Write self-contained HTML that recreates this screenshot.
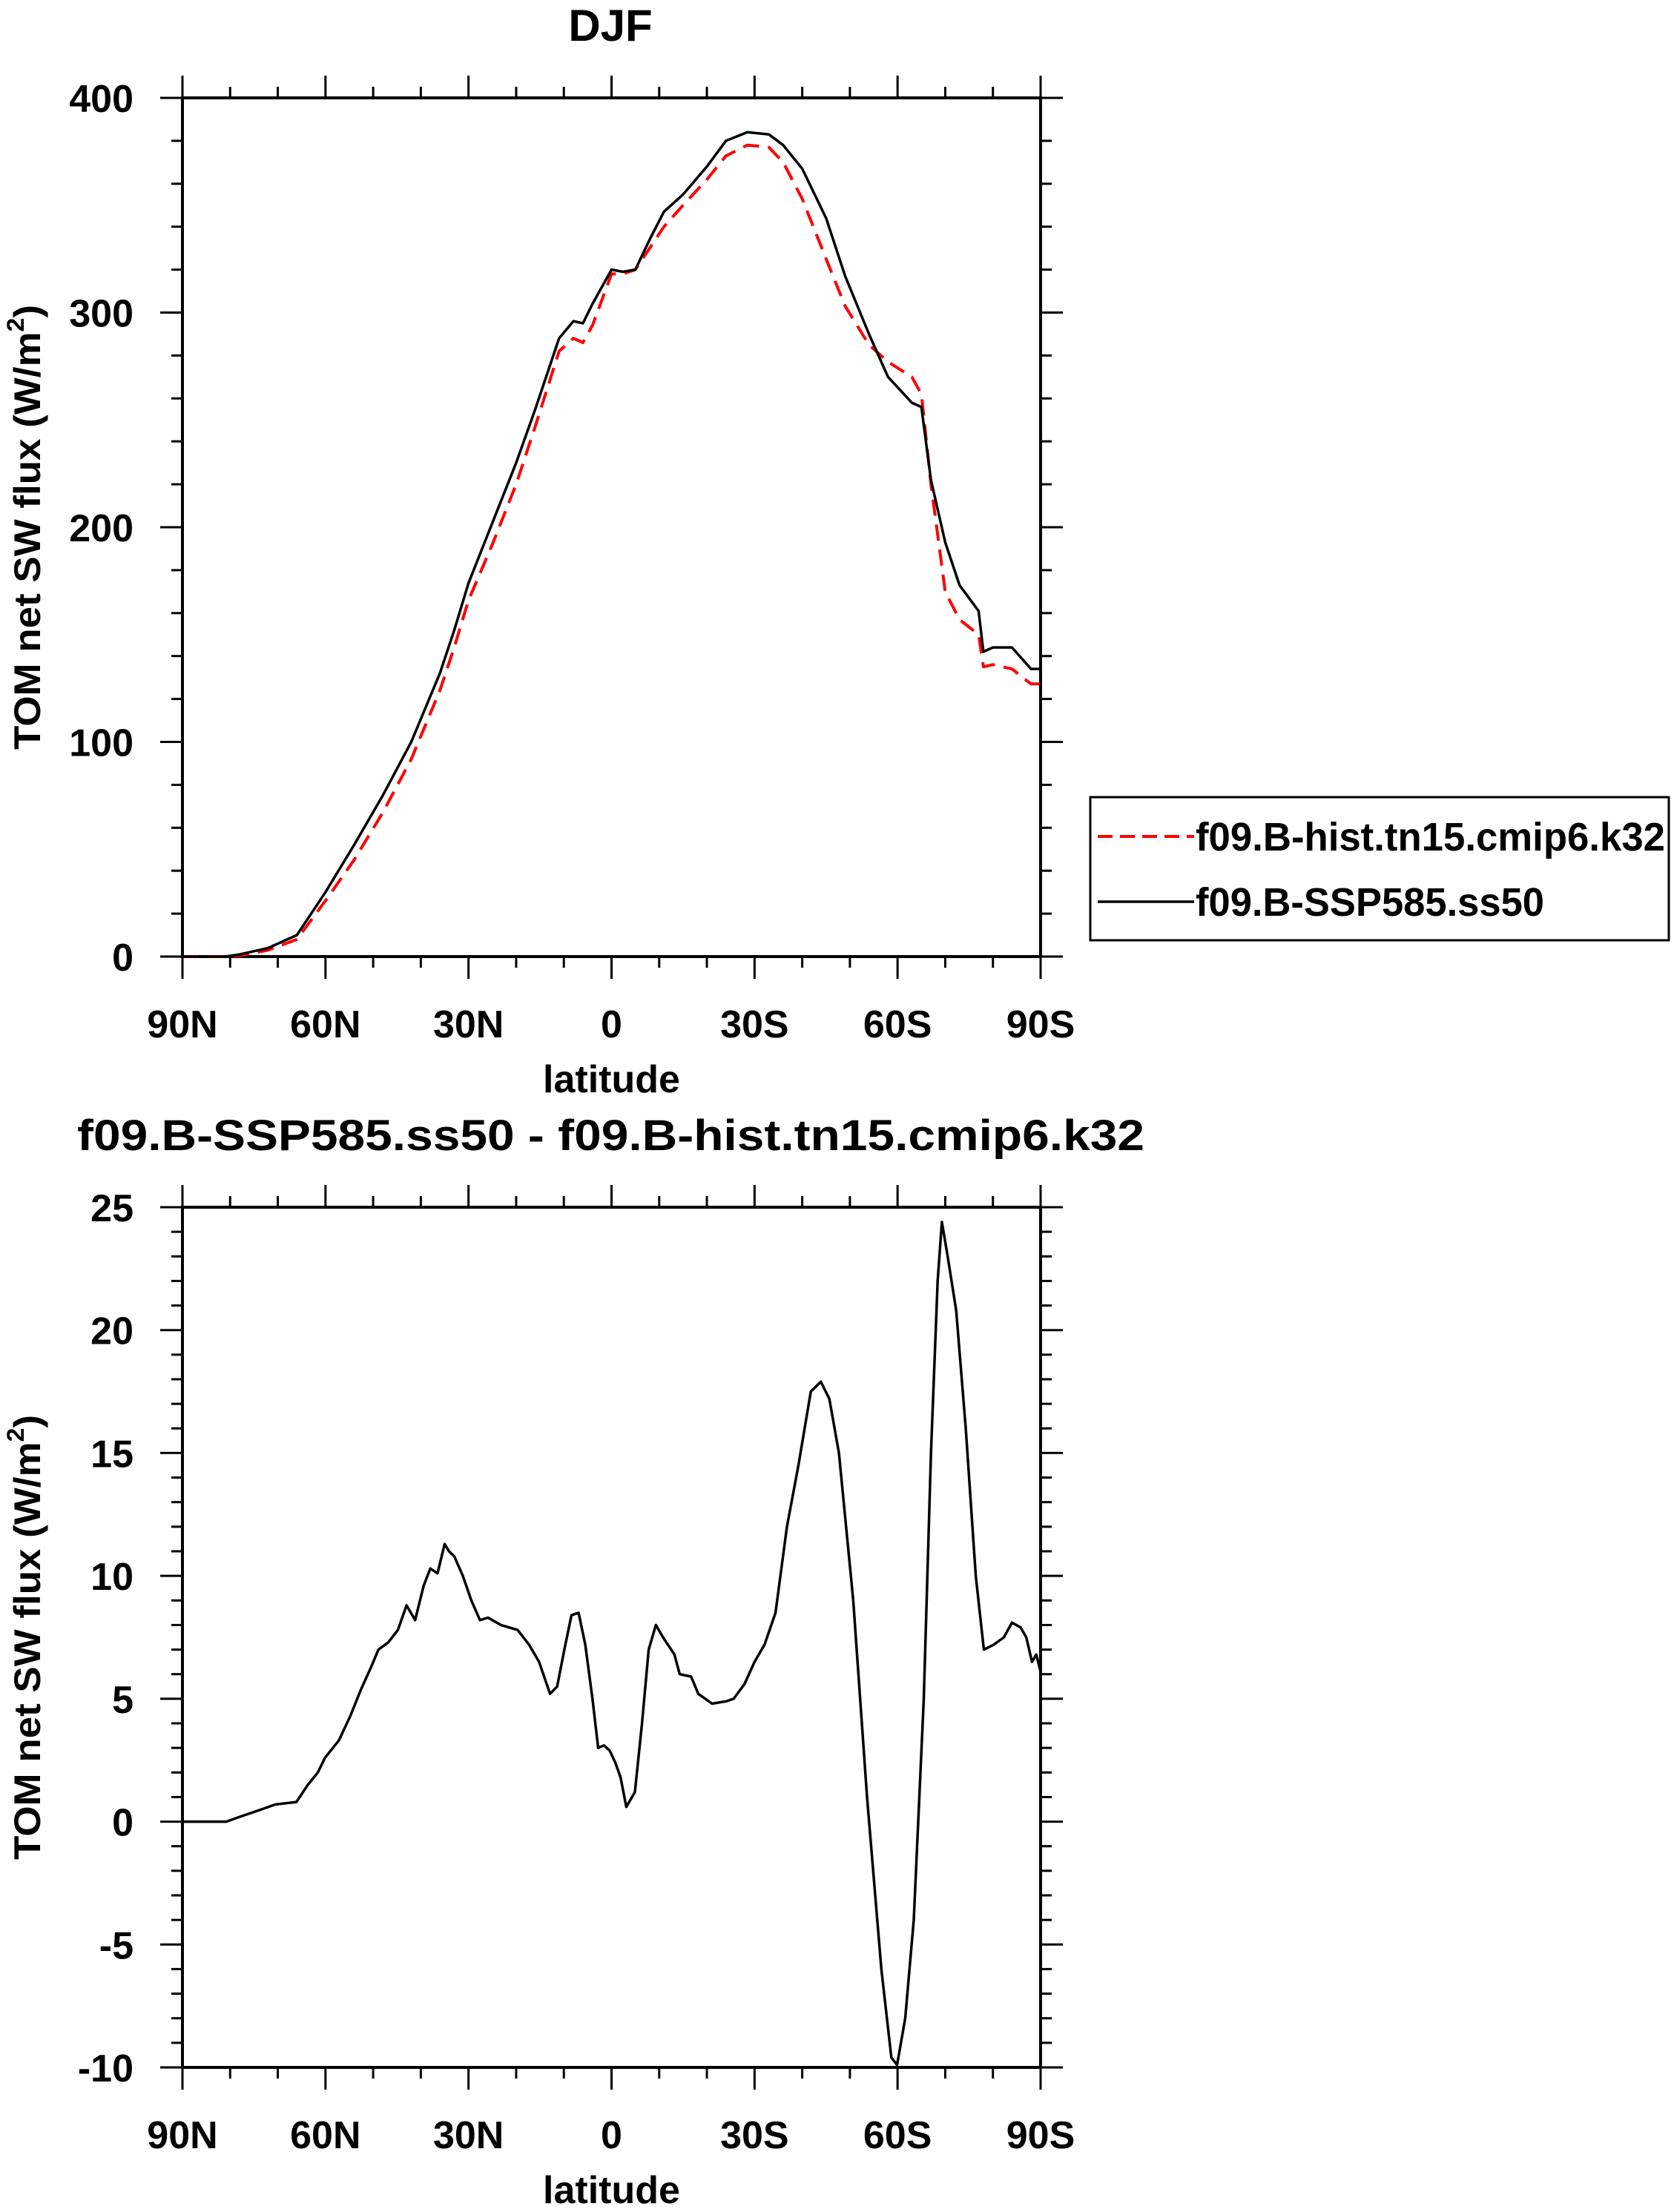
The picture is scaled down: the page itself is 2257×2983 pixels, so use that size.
<!DOCTYPE html>
<html><head><meta charset="utf-8"><style>
html,body{margin:0;padding:0;background:#fff}
svg text{font-family:"Liberation Sans",Arial,sans-serif;font-weight:bold;fill:#000}
</style></head><body>
<svg id="chart" width="2257" height="2978" viewBox="0 0 2257 2978" xmlns="http://www.w3.org/2000/svg">
<g id="axes"></g>
</svg>
<script>
// ---- data ----
const topLatBlack = [90,81,78,72,66,60,54,48,42,36,33,30,25,20,16,11,8,6,4,0,-2.4,-5,-8,-11,-15,-20,-24,-28.5,-33,-36,-40,-45,-49,-54,-58,-63,-65,-67,-70,-73,-77,-78,-80,-84,-88,-90];
const topValBlack = [0,0,1,4,10,30,52,75,100,132,152,174,202,230,255,288,296,295,304,320,319,320,334,347,355,368,380,384,383,378,367,344,317,290,270,258,256,222,193,173,161,142,144,144,134,134];
const topLatRed = topLatBlack;
const topValRed = [0,0,0.5,3,8,26,45,67,92,124,144,166,192,220,247,282,288,286,294,318,318,320,330,340,350,362,373,378,377,370,353,325,303,285,277,270,262,220,170,157,150,135,136,134,127,127];
const diffLat = [90,80.8,77.9,73.4,70.5,66.1,63.7,61.6,60.1,57.2,54.8,52.5,50.4,48.9,46.8,44.8,43.0,41.2,39.4,38.0,36.5,35.0,34.1,33.0,31.2,29.4,27.6,25.9,23.2,19.7,17.3,15.2,12.9,11.4,9.9,8.4,6.9,5.5,4.0,2.8,1.6,0.4,-0.8,-1.9,-3.1,-4.9,-6.4,-7.8,-9.3,-10.8,-13.2,-14.3,-16.7,-18.2,-21.1,-24.1,-25.6,-27.9,-30.0,-32.1,-34.4,-36.8,-39.2,-41.8,-43.9,-45.7,-47.7,-50.7,-53.6,-56.6,-58.7,-59.9,-61.6,-63.4,-65.5,-67.0,-68.4,-69.3,-70.5,-72.3,-74.3,-76.4,-78.1,-80.2,-82.3,-84.0,-85.8,-87.0,-88.2,-89.1,-90];
const diffVal = [0,0,0.2,0.5,0.7,0.8,1.5,2.0,2.6,3.3,4.3,5.4,6.3,7.0,7.3,7.8,8.8,8.2,9.6,10.3,10.1,11.3,11.0,10.8,10.0,9.0,8.2,8.3,8.0,7.8,7.2,6.5,5.2,5.5,7.0,8.4,8.5,7.2,5.0,3.0,3.1,2.9,2.4,1.8,0.6,1.2,4.0,7.0,8.0,7.5,6.8,6.0,5.9,5.2,4.8,4.9,5.0,5.6,6.5,7.2,8.5,12.0,14.5,17.5,17.9,17.2,15.0,9.0,1.0,-6.0,-9.6,-9.9,-8.0,-4,5,15,22,24.4,23,20.8,16,10,7.0,7.2,7.5,8.1,7.9,7.5,6.5,6.8,6.1];
const xTickVals = [90,60,30,0,-30,-60,-90];
const xTickLabels = ["90N","60N","30N","0","30S","60S","90S"];
const topYTicks = [0,100,200,300,400];
const botYTicks = [-10,-5,0,5,10,15,20,25];

const NS="http://www.w3.org/2000/svg";
const root=document.getElementById('axes');
function mk(tag,attrs,parent){const e=document.createElementNS(NS,tag);for(const k in attrs)e.setAttribute(k,attrs[k]);(parent||root).appendChild(e);return e;}
const L=246,R=1403;
const xs=lat=>L+(90-lat)/180*(R-L);

function panel(name,T,B,ymin,ymax,yticks,minorStep,ytitleY){
  const g=mk('g',{});
  
  
  const ys=v=>B-(v-ymin)/(ymax-ymin)*(B-T);
  for(let lat=90;lat>=-90;lat-=10){
    const x=xs(lat),maj=(lat%30===0),len=maj?30:15;
    mk('line',{x1:x,x2:x,y1:B,y2:B+len,stroke:'#000','stroke-width':3},g);
    mk('line',{x1:x,x2:x,y1:T,y2:T-len,stroke:'#000','stroke-width':3},g);
  }
  for(let v=ymin;v<=ymax+1e-9;v+=minorStep){
    const y=ys(v),maj=yticks.some(t=>Math.abs(t-v)<1e-6),len=maj?30:15;
    mk('line',{x1:L,x2:L-len,y1:y,y2:y,stroke:'#000','stroke-width':3},g);
    mk('line',{x1:R,x2:R+len,y1:y,y2:y,stroke:'#000','stroke-width':3},g);
  }
  const fr=mk('rect',{x:L,y:T,width:R-L,height:B-T,fill:'none',stroke:'#000','stroke-width':4},g);
  
  
  xTickVals.forEach((v,i)=>{
    const t=mk('text',{x:xs(v),y:B+109,'font-size':52,'text-anchor':'middle'},g);
    t.textContent=xTickLabels[i];
    
    
  });
  yticks.forEach(v=>{
    const t=mk('text',{x:180,y:ys(v)+19,'font-size':52,'text-anchor':'end'},g);
    t.textContent=String(v);
    
    
  });
  const xt=mk('text',{x:(L+R)/2,y:B+183,'font-size':52,'text-anchor':'middle'},g);
  xt.textContent='latitude';
  
  
  const yt=mk('text',{x:0,y:0,'font-size':50,'text-anchor':'middle',textLength:600,lengthAdjust:'spacingAndGlyphs',transform:`translate(54,${ytitleY}) rotate(-90)`},g);
  yt.innerHTML='TOM net SW flux (W/m<tspan font-size="32" dy="-22">2</tspan><tspan dy="22">)</tspan>';
  
  
  return ys;
}
function line(lats,vals,ys,attrs,name){
  const p=lats.map((l,i)=>xs(l).toFixed(1)+','+ys(vals[i]).toFixed(1)).join(' ');
  const e=mk('polyline',Object.assign({points:p,fill:'none','stroke-linejoin':'round'},attrs));
  
  
}
const ys1=panel('top',132,1290,0,400,topYTicks,20,711);
line(topLatRed,topValRed,ys1,{stroke:'#ff0000','stroke-width':4,'stroke-dasharray':'22 12'},'hist-series-line');
line(topLatBlack,topValBlack,ys1,{stroke:'#000','stroke-width':3.5},'ssp585-series-line');
const ys2=panel('bottom',1628,2788,-10,25,botYTicks,1,2208);
line(diffLat,diffVal,ys2,{stroke:'#000','stroke-width':3.5},'difference-series-line');

let t=mk('text',{x:823,y:55,'font-size':60,'text-anchor':'middle'});
t.textContent='DJF';


t=mk('text',{x:104,y:1551,'font-size':58,textLength:1439,lengthAdjust:'spacingAndGlyphs'});
t.textContent='f09.B-SSP585.ss50 - f09.B-hist.tn15.cmip6.k32';



const lg=mk('g',{});


mk('rect',{x:1470,y:1075,width:780,height:193,fill:'#fff',stroke:'#000','stroke-width':3},lg);
let le=mk('line',{x1:1480,x2:1610,y1:1128,y2:1128,stroke:'#ff0000','stroke-width':4,'stroke-dasharray':'20 10'},lg);


t=mk('text',{x:1612,y:1147,'font-size':54,textLength:633,lengthAdjust:'spacingAndGlyphs'},lg);
t.textContent='f09.B-hist.tn15.cmip6.k32';


le=mk('line',{x1:1480,x2:1610,y1:1216,y2:1216,stroke:'#000','stroke-width':3.5},lg);


t=mk('text',{x:1612,y:1235,'font-size':54,textLength:470,lengthAdjust:'spacingAndGlyphs'},lg);
t.textContent='f09.B-SSP585.ss50';


</script>
</body></html>
